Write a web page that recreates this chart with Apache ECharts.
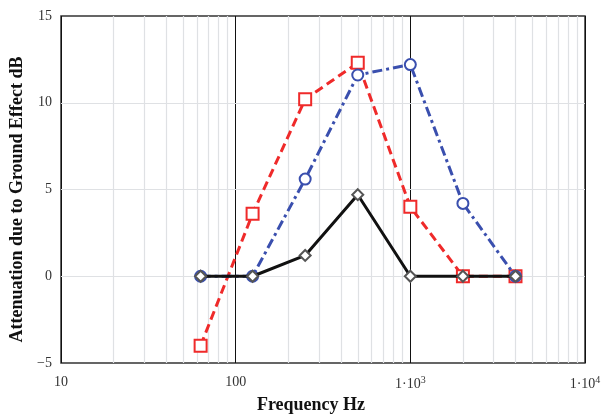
<!DOCTYPE html>
<html>
<head>
<meta charset="utf-8">
<script src="https://cdn.jsdelivr.net/npm/echarts@6/dist/echarts.min.js"></script>
<style>
  html, body { margin: 0; padding: 0; background: #fff; }
  #chart { width: 613px; height: 414px; }
</style>
</head>
<body>
<div id="chart"></div>
<script>
// octave band centre frequencies (Hz)
const freqs = [63, 125, 250, 500, 1000, 2000, 4000]
// attenuation due to ground effect (dB)
const redVals = [-4.0, 3.6, 10.2, 12.3, 4.0, 0, 0]
const blueVals = [0, 0, 5.6, 11.6, 12.2, 4.2, 0]
const blackVals = [0, 0, 1.2, 4.7, 0, 0, 0]
// light grid lines (log minor lines on x, inner lines on y)
const minorGrid = [20, 30, 40, 50, 60, 70, 80, 90, 200, 300, 400, 500, 600, 700, 800, 900,
  2000, 3000, 4000, 5000, 6000, 7000, 8000, 9000]
const yGrid = [0, 5, 10]

const pairs = vals => freqs.map((f, i) => [f, vals[i]])
const serif = '"Liberation Serif", "DejaVu Serif", serif'
const gridGray = '#dfe1e4'

const chart = echarts.init(document.getElementById('chart'))

const option = {
  backgroundColor: '#fff',
  animation: false,
  grid: {
    left: 61,
    right: 28,
    top: 16,
    bottom: 51,
    outerBoundsMode: 'none',
    show: true,
    borderColor: '#333',
    borderWidth: 1.5
  },
  xAxis: {
    type: 'log',
    logBase: 10,
    min: 10,
    max: 10000,
    splitNumber: 3,
    name: 'Frequency Hz',
    nameLocation: 'middle',
    nameGap: 32,
    nameTextStyle: { fontFamily: serif, fontWeight: 'bold', fontSize: 18, color: '#111', padding: [0, 24, 0, 0] },
    axisLine: { show: false },
    axisTick: { show: false },
    axisLabel: {
      margin: 12,
      fontFamily: serif,
      fontSize: 14,
      color: '#333',
      formatter: v => {
        if (v < 1000) return String(v)
        return '1·10{sup|' + Math.round(Math.log10(v)) + '}'
      },
      rich: {
        sup: { fontFamily: serif, fontSize: 10, color: '#333', padding: [0, 0, 9, 0] }
      }
    },
    splitLine: { show: true, lineStyle: { color: '#111', width: 1 } }
  },
  yAxis: {
    type: 'value',
    min: -5,
    max: 15,
    interval: 5,
    name: 'Attenuation due to Ground Effect dB',
    nameLocation: 'middle',
    nameGap: 34,
    nameTextStyle: { fontFamily: serif, fontWeight: 'bold', fontSize: 18, color: '#111', padding: [0, 20, 0, 0] },
    axisLine: { show: false },
    axisTick: { show: false },
    axisLabel: {
      margin: 9,
      fontFamily: serif,
      fontSize: 14,
      color: '#333',
      formatter: v => String(v).replace('-', '−')
    },
    splitLine: { show: false }
  },
  series: [
    {
      type: 'line',
      data: pairs(redVals),
      symbol: 'emptyRect',
      symbolSize: 12,
      lineStyle: { color: '#ef2a2a', width: 3, type: [9, 5] },
      itemStyle: { color: '#ef2a2a', borderWidth: 1.3 },
      z: 3,
      markLine: {
        silent: true,
        symbol: 'none',
        label: { show: false },
        lineStyle: { color: gridGray, width: 1.2, type: 'solid' },
        z: 1,
        data: minorGrid.map(v => ({ xAxis: v })).concat(yGrid.map(v => ({ yAxis: v })))
      }
    },
    {
      type: 'line',
      data: pairs(blueVals),
      symbol: 'emptyCircle',
      symbolSize: 11,
      lineStyle: { color: '#3a4fae', width: 3, type: [10, 4, 3, 4] },
      itemStyle: { color: '#3a4fae', borderWidth: 1.5 },
      z: 4
    },
    {
      type: 'line',
      data: pairs(blackVals),
      symbol: 'emptyDiamond',
      symbolSize: 11,
      lineStyle: { color: '#111', width: 3 },
      itemStyle: { color: '#555', borderWidth: 1.2 },
      z: 5
    }
  ]
}

chart.setOption(option)
</script>
</body>
</html>
